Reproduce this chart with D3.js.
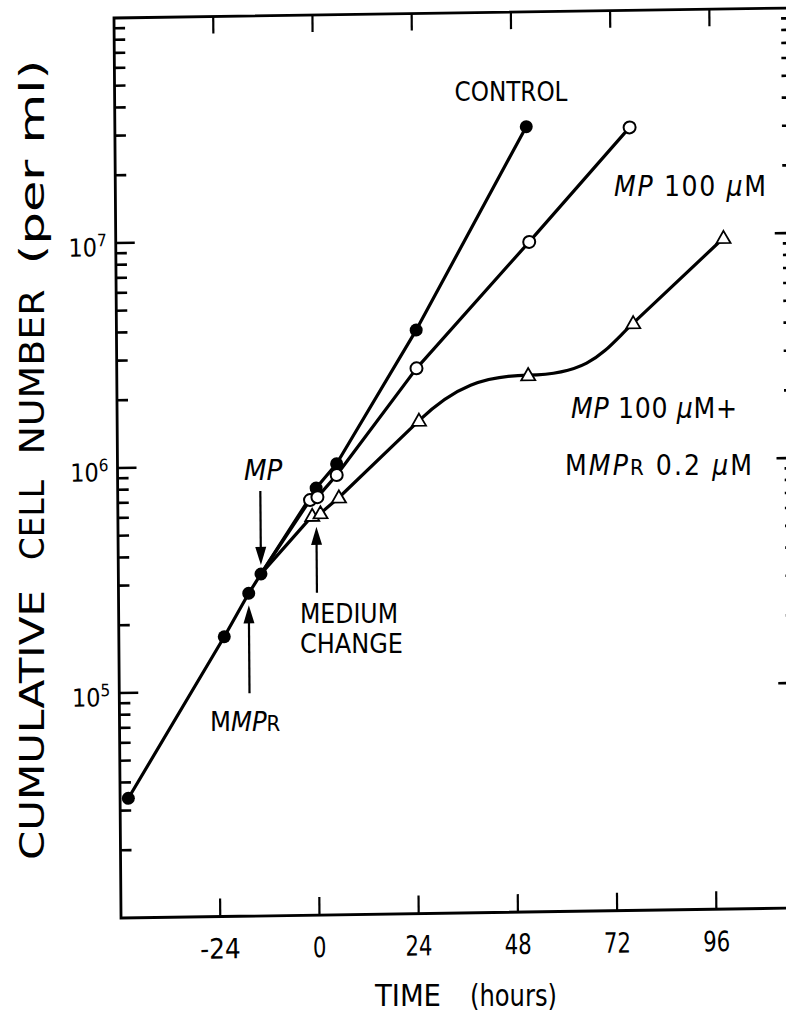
<!DOCTYPE html>
<html>
<head>
<meta charset="utf-8">
<script src="https://cdn.jsdelivr.net/npm/d3@7"></script>
<style>
  html, body { margin: 0; padding: 0; background: #fff; }
  svg { display: block; }
  text { font-family: "Liberation Sans Narrow", "DejaVu Sans Condensed", "Liberation Sans", sans-serif; fill: #000; }
</style>
</head>
<body>
<svg id="chart" width="786" height="1020"></svg>
<script>
// Cumulative cell number (per ml) against time (hours) relative to the medium change
const controlHours = [-46, -22.5, -16.5, -13.5, 0, 5, 24.5, 51.5];
const controlCells = [3.4e4, 1.75e5, 2.72e5, 3.31e5, 7.9e5, 1.01e6, 3.92e6, 3.09e7];

const mpHours = [-1.5, 0.3, 5, 24.5, 52, 76.5];
const mpCells = [7.0e5, 7.2e5, 9.0e5, 2.65e6, 9.5e6, 3.02e7];

const comboHours = [-1, 1, 5.5, 25, 51.5, 77, 99];
const comboCells = [5.95e5, 6.1e5, 7.15e5, 1.55e6, 2.43e6, 4.07e6, 9.6e6];

// index in the control series where MMPR and MP were added
const mmprIndex = 2;
const mpIndex = 3;

const timeTicks = [-24, 0, 24, 48, 72, 96];
const timeTickLabels = ["-24", "0", "24", "48", "72", "96"];
const decadeTicks = [1e5, 1e6, 1e7];
const decadeExponents = ["5", "6", "7"];

const W = 678, H = 900;
const x = d3.scaleLinear().domain([-48, 116]).range([0, W]);
const y = d3.scaleLog().domain([1e4, 1e8]).range([H, 0]);

const svg = d3.select("#chart");
// plot frame, slightly skewed like the printed page
const g = svg.append("g").attr("transform", "matrix(1,-0.0148,0.0078,1,114,18)");

// frame
g.append("rect")
  .attr("width", W).attr("height", H)
  .attr("fill", "none").attr("stroke", "#000").attr("stroke-width", 2.8);

// log minor ticks
const minorTicks = [];
for (let k = 4; k < 8; k++) for (let m = 2; m <= 9; m++) minorTicks.push(m * Math.pow(10, k));

const ticksG = g.append("g").attr("stroke", "#000").attr("stroke-width", 2.6);
[[0, 1], [W, -1]].forEach(([x0, dir]) => {
  ticksG.selectAll(null).data(minorTicks).join("line")
    .attr("x1", x0).attr("x2", x0 + dir * 11)
    .attr("y1", d => y(d)).attr("y2", d => y(d));
  ticksG.selectAll(null).data(decadeTicks).join("line")
    .attr("x1", x0).attr("x2", x0 + dir * 19)
    .attr("y1", d => y(d)).attr("y2", d => y(d));
});
// time ticks, bottom and top
ticksG.selectAll(null).data(timeTicks).join("line")
  .attr("stroke-width", 2.2)
  .attr("x1", d => x(d)).attr("x2", d => x(d))
  .attr("y1", H).attr("y2", H - 18);
ticksG.selectAll(null).data(timeTicks).join("line")
  .attr("stroke-width", 2.2)
  .attr("x1", d => x(d)).attr("x2", d => x(d))
  .attr("y1", 0).attr("y2", 17);

// y tick labels 10^n
const yl = g.selectAll(null).data(decadeTicks).join("text")
  .attr("x", -9).attr("y", d => y(d) + 13)
  .attr("text-anchor", "end")
  .attr("font-size", 25);
yl.append("tspan").text("10");
yl.append("tspan").attr("dy", -10).attr("font-size", 17).text((d, i) => decadeExponents[i]);

// x tick labels
g.selectAll(null).data(timeTicks).join("text")
  .attr("x", d => x(d)).attr("y", H + 42)
  .attr("text-anchor", "middle")
  .attr("font-size", 28)
  .attr("textLength", (d, i) => timeTickLabels[i].length * 13.5)
  .attr("lengthAdjust", "spacingAndGlyphs")
  .text((d, i) => timeTickLabels[i]);

// series geometry
const pts = (hs, ns) => hs.map((h, i) => [x(h), y(ns[i])]);
const controlPts = pts(controlHours, controlCells);
const branch = controlPts[mpIndex];
const mpPts = [branch, ...pts(mpHours, mpCells)];
const comboPts = [branch, ...pts(comboHours, comboCells)];

const lineStyle = sel => sel.attr("fill", "none").attr("stroke", "#000")
  .attr("stroke-width", 3.2).attr("stroke-linejoin", "round").attr("stroke-linecap", "round");

g.append("path").attr("d", d3.line()(controlPts)).call(lineStyle);
g.append("path").attr("d", d3.line()(mpPts)).call(lineStyle);

// MP + MMPR: straight to 24 h, levels off through 48 h, then resumes growth
{
  const p = d3.path();
  const c = comboPts;
  p.moveTo(c[0][0], c[0][1]);
  for (let i = 1; i <= 4; i++) p.lineTo(c[i][0], c[i][1]);
  const T3 = c[3], T4 = c[4], T5 = c[5], T6 = c[6], T7 = c[7];
  const gap1 = T5[0] - T4[0];
  const slopeIn = (T4[1] - T3[1]) / (T4[0] - T3[0]);
  p.bezierCurveTo(T4[0] + 0.33 * gap1, T4[1] + slopeIn * 0.33 * gap1,
                  T5[0] - 0.4 * gap1, T5[1], T5[0], T5[1]);
  const gap2 = T6[0] - T5[0];
  const slopeOut = (T7[1] - T6[1]) / (T7[0] - T6[0]);
  p.bezierCurveTo(T5[0] + 0.6 * gap2, T5[1],
                  T6[0] - 0.28 * gap2, T6[1] - slopeOut * 0.28 * gap2, T6[0], T6[1]);
  p.lineTo(T7[0], T7[1]);
  g.append("path").attr("d", p.toString()).call(lineStyle);
}

// markers
g.selectAll(null).data(pts(controlHours, controlCells)).join("circle")
  .attr("cx", d => d[0]).attr("cy", d => d[1]).attr("r", 6.5).attr("fill", "#000");
g.selectAll(null).data(pts(mpHours, mpCells)).join("circle")
  .attr("cx", d => d[0]).attr("cy", d => d[1]).attr("r", 6)
  .attr("fill", "#fff").attr("stroke", "#000").attr("stroke-width", 2);
g.selectAll(null).data(pts(comboHours, comboCells)).join("path")
  .attr("transform", d => `translate(${d[0]},${d[1] + 1})`)
  .attr("d", d3.symbol(d3.symbolTriangle, 85)())
  .attr("fill", "#fff").attr("stroke", "#000").attr("stroke-width", 1.8);

// arrows marking additions and the medium change
function arrow(xp, tipY, tailY) {
  const dir = tailY < tipY ? 1 : -1;     // 1 = pointing down
  const headLen = 18, half = 5.5;
  g.append("line").attr("x1", xp).attr("x2", xp)
    .attr("y1", tailY).attr("y2", tipY - dir * headLen + dir * 2)
    .attr("stroke", "#000").attr("stroke-width", 2.2);
  g.append("path")
    .attr("d", `M${xp},${tipY}L${xp - half},${tipY - dir * headLen}L${xp + half},${tipY - dir * headLen}Z`)
    .attr("fill", "#000");
}
const mpTip = controlPts[mpIndex][1] - 9;
arrow(controlPts[mpIndex][0], mpTip, mpTip - 74);
const mmprTip = controlPts[mmprIndex][1] + 12;
arrow(controlPts[mmprIndex][0], mmprTip, mmprTip + 88);
const mcTip = y(comboCells[0]) + 11;
arrow(x(0), mcTip, mcTip + 66);

// annotation text
const txt = (px, py, size, anchor) => svg.append("text")
  .attr("x", px).attr("y", py).attr("font-size", size).attr("text-anchor", anchor || "start");

txt(511, 101, 27, "middle").attr("textLength", 113).attr("lengthAdjust", "spacingAndGlyphs").text("CONTROL");

{
  const t = txt(614, 196, 28).attr("textLength", 152).attr("lengthAdjust", "spacing");
  t.append("tspan").attr("font-style", "italic").text("MP");
  t.append("tspan").text(" 100 ");
  t.append("tspan").attr("font-style", "italic").text("μ");
  t.append("tspan").text("M");
}
{
  const t = txt(571, 418, 28).attr("textLength", 166).attr("lengthAdjust", "spacing");
  t.append("tspan").attr("font-style", "italic").text("MP");
  t.append("tspan").text(" 100 ");
  t.append("tspan").attr("font-style", "italic").text("μ");
  t.append("tspan").text("M+");
}
{
  const t = txt(565, 475, 28).attr("textLength", 187).attr("lengthAdjust", "spacing");
  t.append("tspan").text("M");
  t.append("tspan").attr("font-style", "italic").text("MP");
  t.append("tspan").attr("font-size", 22).text("R");
  t.append("tspan").text(" 0.2 ");
  t.append("tspan").attr("font-style", "italic").text("μ");
  t.append("tspan").text("M");
}
txt(263, 480, 29, "middle").attr("font-style", "italic").text("MP");
{
  const t = txt(210, 731, 27);
  t.append("tspan").text("M");
  t.append("tspan").attr("font-style", "italic").text("MP");
  t.append("tspan").attr("font-size", 22).text("R");
}
txt(300, 623, 27).attr("textLength", 98).attr("lengthAdjust", "spacingAndGlyphs").text("MEDIUM");
txt(300, 653, 27).attr("textLength", 103).attr("lengthAdjust", "spacingAndGlyphs").text("CHANGE");

// axis titles
txt(375, 1006, 31).attr("textLength", 66).attr("lengthAdjust", "spacingAndGlyphs").text("TIME");
txt(470, 1006, 31).attr("textLength", 87).attr("lengthAdjust", "spacingAndGlyphs").text("(hours)");

const yTitle = [["CUMULATIVE", 725, 270], ["CELL", 520, 80], ["NUMBER", 372, 165], ["(per ml)", 162, 205]];
yTitle.forEach(([word, cy, len]) => {
  svg.append("text")
    .attr("transform", `translate(44,${cy}) rotate(-90)`)
    .attr("text-anchor", "middle")
    .attr("font-size", 34)
    .attr("textLength", len).attr("lengthAdjust", "spacingAndGlyphs")
    .text(word);
});
</script>
</body>
</html>
